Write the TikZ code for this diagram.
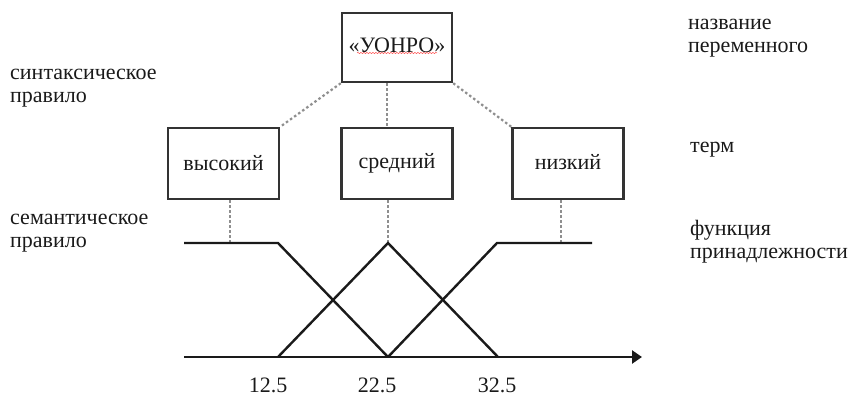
\documentclass[tikz,border=0pt]{standalone}
\usepackage{fontspec}
\setmainfont{Liberation Serif}
\usetikzlibrary{arrows.meta,calc,decorations.pathmorphing}
\definecolor{ink}{HTML}{1A1A1A}
\definecolor{boxline}{HTML}{333333}
\definecolor{dotline}{HTML}{8F8F8F}
\begin{document}
\begin{tikzpicture}[x=1pt,y=-1pt,
  txt/.style={font=\fontsize{22}{23}\selectfont, text=ink, inner sep=0pt},
  lbl/.style={txt, align=left, anchor=west},
  termbox/.style={draw=boxline, line width=2.4pt, minimum width=111pt, minimum height=71pt, txt},
  namebox/.style={draw=boxline, line width=2.4pt, minimum width=110pt, minimum height=69pt, txt},
  dotlink/.style={draw=dotline, line width=2.2pt, dash pattern=on 2.5pt off 2.5pt},
  mf/.style={draw=ink, line width=2.4pt, line join=miter},
]
\path[use as bounding box] (0,0) rectangle (849,396);

% boxes
\node[namebox] (top) at (397,47.5) {\raisebox{5pt}{«УОНРО»}};
\node[termbox] (vys) at (223.5,163.5) {высокий};
\node[termbox] (sred) at (397,163.5) {\raisebox{3pt}{средний}};
\node[termbox] (niz) at (568,163.5) {\raisebox{3pt}{низкий}};

% spell-check squiggle
\draw[red!70, line width=0.5pt, decorate, decoration={snake, amplitude=0.6pt, segment length=3pt}] (357,53) -- (437,53);

% dotted links from name to terms
\coordinate (tm) at ($(top.south)+(-10,0)$);
\draw[dotlink] (top.south west) -- (vys.north east);
\draw[dotlink] (tm) -- (tm |- sred.north);
\draw[dotlink] (top.south east) -- (niz.north west);

% membership function points
\coordinate (a1) at (184,243);
\coordinate (b1) at (278,243);
\coordinate (c1) at (388,357);
\coordinate (a2) at (278,357);
\coordinate (b2) at (388,243);
\coordinate (c2) at (498,357);
\coordinate (a3) at (388,357);
\coordinate (b3) at (497,243);
\coordinate (c3) at (592,243);
\coordinate (ax0) at (184,357);
\coordinate (ax1) at (642,357);
\coordinate (hL) at (230,243);
\coordinate (hM) at (388,243);
\coordinate (hR) at (561,243);

% dotted links from terms to functions
\draw[dotlink] (hL |- vys.south) -- (hL);
\draw[dotlink] (hM |- sred.south) -- (hM);
\draw[dotlink] (hR |- niz.south) -- (hR);

% functions
\draw[mf] (a1) -- (b1) -- (c1);
\draw[mf] (a2) -- (b2) -- (c2);
\draw[mf] (a3) -- (b3) -- (c3);
\draw[mf, -{Triangle[length=10pt,width=13pt]}] (ax0) -- (ax1);

% axis labels
\node[txt] (n1) at (268,385) {12.5};
\node[txt] (n2) at (377,385) {22.5};
\node[txt] (n3) at (497,385) {32.5};

% side labels
\node[lbl] (syn) at (10,88) {синтаксическое\\правило};
\node[lbl] (sem) at (10,233) {семантическое\\правило};
\node[lbl] (nam) at (688,38) {название\\переменного};
\node[lbl] (term) at (690,150) {терм};
\node[lbl] (fun) at (690,242) {функция\\принадлежности};
\end{tikzpicture}
\end{document}
